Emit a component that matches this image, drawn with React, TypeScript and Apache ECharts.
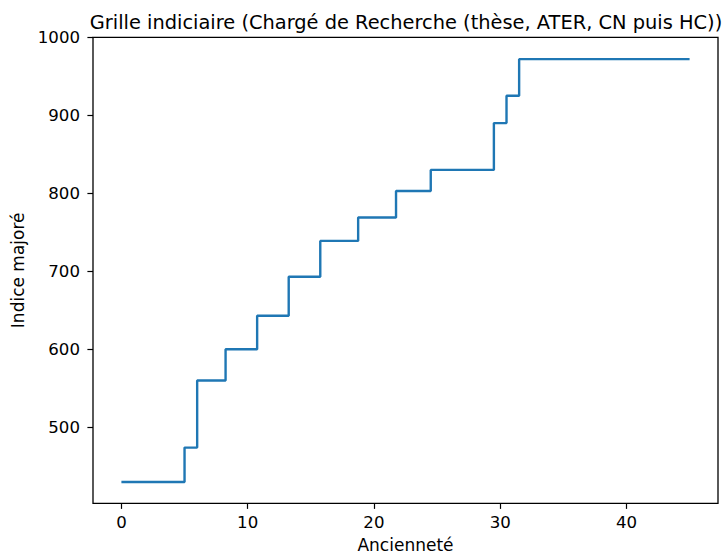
import React, { useEffect, useRef } from "react";
import * as echarts from "echarts";

const anciennete = [0, 5, 6, 8.25, 10.75, 13.25, 15.75, 18.75, 21.75, 24.5, 29.5, 30.5, 31.5, 45];
const indice = [430, 474, 560, 600, 643, 693, 739, 769, 803, 830, 890, 925, 972, 972];
const xTicks = [0, 10, 20, 30, 40];
const yTicks = [500, 600, 700, 800, 900, 1000];

const FONT = "DejaVu Sans";

export default function App() {
  const ref = useRef<HTMLDivElement>(null);
  useEffect(() => {
    if (!ref.current) return;
    const chart = echarts.init(ref.current, null, { renderer: "svg" });
    const data = anciennete.map((x, i) => [x, indice[i]]);
    chart.setOption({
      animation: false,
      backgroundColor: "#ffffff",
      textStyle: { fontFamily: FONT, color: "#000" },
      title: {
        text: "Grille indiciaire (Chargé de Recherche (thèse, ATER, CN puis HC))",
        left: 401,
        textAlign: "center",
        top: 8,
        textStyle: { fontFamily: FONT, fontSize: 19.4, fontWeight: "normal", color: "#000" },
      },
      grid: {
        left: 93,
        top: 37.3,
        right: 6,
        bottom: 51.7,
        outerBoundsMode: "none",
        containLabel: false,
        show: true,
        borderColor: "#000",
        borderWidth: 1.3,
        backgroundColor: "transparent",
      },
      xAxis: {
        type: "value",
        min: -2.25,
        max: 47.25,
        name: "Ancienneté",
        nameLocation: "middle",
        nameGap: 33,
        nameTextStyle: { fontFamily: FONT, fontSize: 17, color: "#000", lineHeight: 17 },
        axisLine: { show: false, onZero: false },
        splitLine: { show: false },
        axisTick: { show: true, inside: false, length: 5.6, lineStyle: { color: "#000", width: 1.2 }, customValues: xTicks },
        axisLabel: { fontFamily: FONT, fontSize: 16.6, color: "#000", margin: 11, customValues: xTicks, formatter: (v: number) => String(v) },
      },
      yAxis: {
        type: "value",
        min: 402.6,
        max: 1000,
        name: "Indice majoré",
        nameLocation: "middle",
        nameGap: 67,
        nameRotate: 90,
        nameTextStyle: { fontFamily: FONT, fontSize: 17, color: "#000" },
        axisLine: { show: false, onZero: false },
        splitLine: { show: false },
        axisTick: { show: true, inside: false, length: 5.6, lineStyle: { color: "#000", width: 1.2 }, customValues: yTicks },
        axisLabel: { fontFamily: FONT, fontSize: 16.6, color: "#000", margin: 13, customValues: yTicks, formatter: (v: number) => String(v) },
      },
      series: [
        {
          type: "line",
          step: "end",
          data,
          symbol: "none",
          lineStyle: { color: "#1f77b4", width: 2.4 },
        },
      ],
    });
    return () => chart.dispose();
  }, []);
  return (
    <div
      ref={ref}
      style={{ position: "fixed", left: 0, top: 0, width: 724, height: 555, background: "#fff" }}
    />
  );
}
